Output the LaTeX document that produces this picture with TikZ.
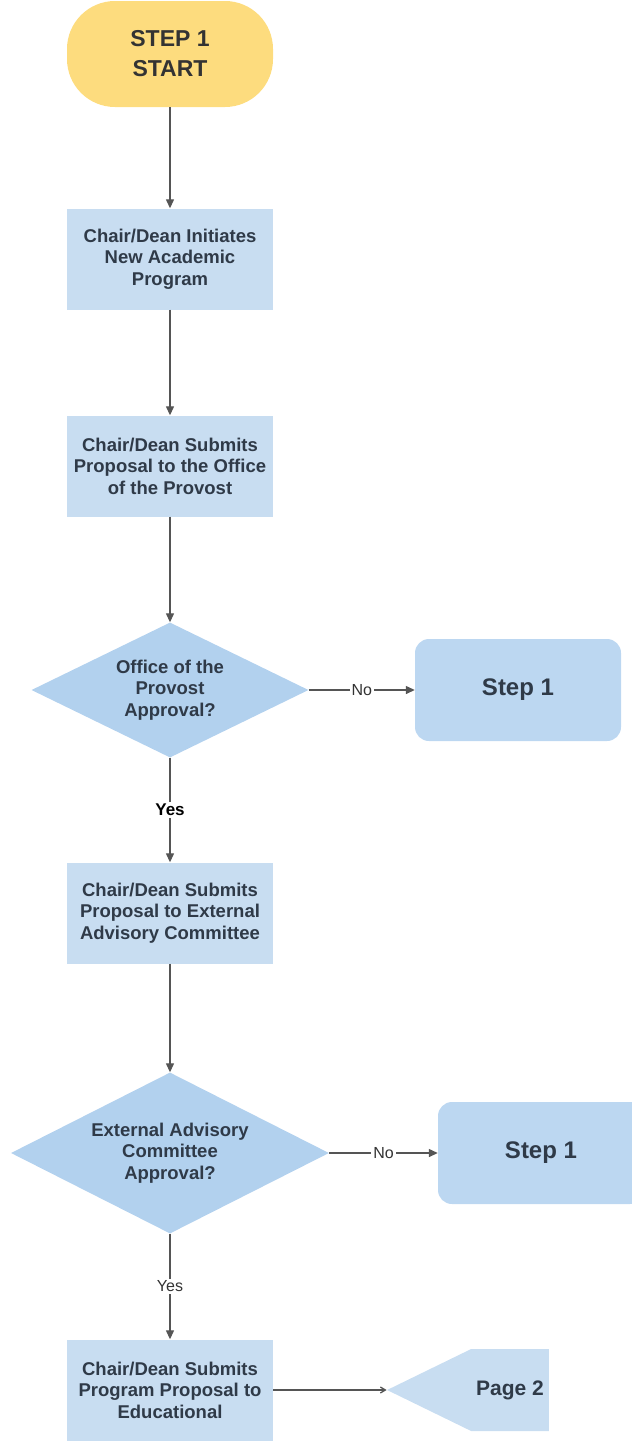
\documentclass[tikz,border=0pt]{standalone}
\usepackage{fontspec}
\setmainfont{Liberation Sans}
\usepackage{tikz}
\usetikzlibrary{arrows.meta, shapes.geometric, shapes.symbols}

\definecolor{startfill}{HTML}{FDDC7E}
\definecolor{boxfill}{HTML}{C8DDF1}
\definecolor{decfill}{HTML}{B2D1EE}
\definecolor{stepfill}{HTML}{BCD7F1}
\definecolor{inktext}{HTML}{2F3A48}
\definecolor{linegray}{HTML}{555555}

\tikzset{
  boxtext/.style={font=\bfseries\fontsize{18.5}{21.5}\selectfont, text=inktext, align=center},
  startnode/.style={boxtext, fill=startfill, rounded corners=48pt, minimum width=206pt, minimum height=106pt,
    font=\bfseries\fontsize{23}{30}\selectfont, text=black!80},
  procbox/.style={boxtext, fill=boxfill, minimum width=206pt, minimum height=101pt, inner sep=0pt},
  decision/.style={boxtext, diamond, fill=decfill, inner sep=-4pt, aspect=2},
  stepbox/.style={fill=stepfill, rounded corners=14pt, minimum width=206pt, minimum height=102pt,
    font=\bfseries\fontsize{24}{28}\selectfont, text=inktext},
  pagetag/.style={signal, signal to=west, fill=boxfill, inner ysep=0pt, inner xsep=5pt,
    font=\bfseries\fontsize{21}{24}\selectfont, text=inktext},
  flow/.style={draw=linegray, line width=1.3pt, -{Triangle[length=9pt,width=8pt]}},
  lbl/.style={fill=white, inner sep=2pt, font=\fontsize{16}{18}\selectfont, text=black!80}
}

\begin{document}
\begin{tikzpicture}[x=1pt, y=-1pt]
			\useasboundingbox (0,0) rectangle (632,1441);
			\node[startnode] (start) at (170,54) {STEP 1\\START};
			\node[procbox] (init) at (170,259) {Chair/Dean Initiates\\New Academic\\Program};
			\node[procbox] (submit) at (170,466) {Chair/Dean Submits\\Proposal to the Office\\of the Provost};
			\node[decision, minimum width=277pt, minimum height=135pt] (provost) at (170,690) {Office of the\\Provost\\Approval?};
			\node[stepbox] (backa) at (518,690) {Step 1};
			\node[procbox] (advisory) at (170,913) {Chair/Dean Submits\\Proposal to External\\Advisory Committee};
			\node[decision, minimum width=318pt, minimum height=161pt] (external) at (170,1153) {External Advisory\\Committee\\Approval?};
			\node[stepbox] (backb) at (541,1153) {Step 1};
			\node[procbox] (educ) at (170,1390) {Chair/Dean Submits\\Program Proposal to\\Educational};
			\node[pagetag, minimum width=83pt, minimum height=82pt, signal pointer angle=52] (pagetwo) at (510,1390) {Page 2};
			\draw[flow] (start) -- (init);
			\draw[flow] (init) -- (submit);
			\draw[flow] (submit) -- (provost);
			\draw[flow] (provost) -- node[lbl] {No} (backa);
			\draw[flow] (provost) -- node[lbl, font=\bfseries\fontsize{17}{19}\selectfont, text=black] {Yes} (advisory);
			\draw[flow] (advisory) -- (external);
			\draw[flow] (external) -- node[lbl] {No} (backb);
			\draw[flow] (external) -- node[lbl] {Yes} (educ);
			\draw[draw=linegray, line width=1.3pt, -{Straight Barb[length=5pt,width=6pt]}] (educ.east) -- (pagetwo.west);
		\end{tikzpicture}
\end{document}
